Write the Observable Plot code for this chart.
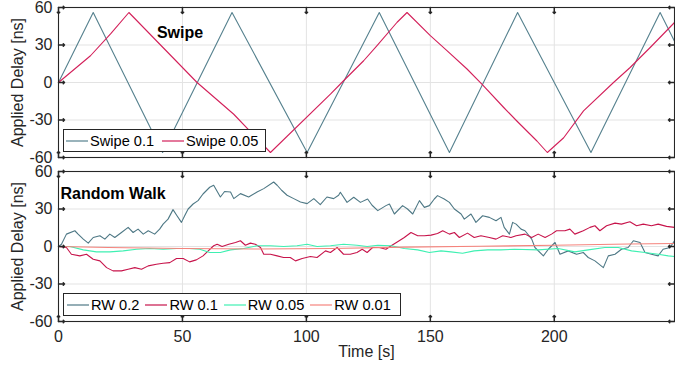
<!DOCTYPE html>
<html><head><meta charset="utf-8">
<script src="https://cdn.jsdelivr.net/npm/d3@7"></script>
<script src="https://cdn.jsdelivr.net/npm/@observablehq/plot@0.6"></script>
<style>
body{margin:0;background:#fff;font-family:"Liberation Sans",Arial,sans-serif;}
#wrap{position:relative;width:675px;height:369px;overflow:hidden;}
.panel{position:absolute;left:0;}
.legend{position:absolute;box-sizing:border-box;border:1px solid #262626;background:#fff;display:flex;align-items:center;font-size:14.6px;color:#000;white-space:nowrap;}
.legend .item{display:flex;align-items:center;}
.legend svg{display:block;margin-right:2px;}
</style></head>
<body><div id="wrap"></div>
<script>
const xTicks = [0, 50, 100, 150, 200];
const yTicks = [-60, -30, 0, 30, 60];
const swipeNames = ["Swipe 0.1", "Swipe 0.05"];
const swipeColors = ["#55818e", "#d3205a"];
const rwNames = ["RW 0.2", "RW 0.1", "RW 0.05", "RW 0.01"];
const rwColors = ["#4e7885", "#c7144b", "#3ff0b2", "#f5837c"];

const swipe01 = [[0,0],[14,56],[42,-56],[70,56],[100.3,-56],[129.4,56],[157.7,-56],[185.2,56],[214.8,-56],[242.7,56],[248.5,33]];
const swipe005 = [[0,0],[12.9,21.4],[21,38.9],[28.4,56],[55.9,0],[70.7,-25.4],[85.5,-56],[109.7,-9.3],[115,1.4],[123.1,17.4],[128.5,29.5],[136.6,48.2],[140.6,56],[150,37.5],[156.7,25.5],[164.8,10.8],[170.8,-1.3],[179.6,-20],[184.9,-30.8],[193,-46.8],[197.2,-56],[203.8,-44.2],[211.8,-22.7],[223.9,0],[230.6,12],[238.7,28],[248.5,48]];

const rw02 = [[0,0],[1.2,1.8],[3.2,9.9],[6.6,12.6],[7.9,9.9],[10,5.9],[12,2.7],[14,7.2],[16.7,8.6],[18.7,5.9],[20.7,9.9],[22.7,7.2],[25.4,11.2],[28.1,15.3],[30.1,11.2],[32.1,13.9],[34.2,9.9],[36.2,12.6],[38.8,9.9],[40.8,13.9],[42.2,17.9],[44.2,21.9],[46.2,29.5],[47.8,24.6],[49.6,19.3],[50.9,24.6],[52.3,30],[54.3,34],[56.3,36.7],[58.3,42],[61,47.4],[62.6,49],[65.3,39.6],[67,44],[69.4,43.6],[70.7,38.3],[73.4,42.3],[76.7,39.6],[80.1,43.6],[82.8,46.3],[86.8,51.6],[88.2,49],[90,45],[92.2,41],[94.9,38.3],[97.6,35.6],[100.3,34.3],[103,38.3],[105.6,33.5],[108.3,39.6],[111,38.3],[113,41],[113.7,43.4],[116.4,35.3],[119.1,39.4],[121.8,35.3],[124.7,38],[126.5,33],[128.8,28.7],[132.1,32.7],[133.5,34],[135.5,26],[138.8,32.7],[140.8,30],[142.9,26],[145.6,36.7],[147.6,31.3],[149.6,32.7],[151.6,38],[152.9,40.7],[155.6,38],[157.7,35.3],[159.7,30],[162.4,26],[163.7,21.9],[166.4,26],[168.4,19.3],[171.1,24.6],[173.8,23.3],[176.5,20.6],[178.5,23.3],[179.8,15.3],[181.9,9.9],[183.2,19.3],[184.6,17.9],[186.6,13.9],[188.2,12.6],[190.9,5.9],[192.2,-0.8],[195.6,-7.5],[197.6,-2.2],[200.3,3.2],[202.3,-6.2],[205.6,-3.5],[209,-6.2],[211.7,-4.8],[213.7,-8.8],[216.4,-11.5],[219.8,-16.9],[221.8,-7.5],[224.5,-6.2],[227.1,-2.2],[229.8,-0.8],[231.9,4.6],[234.6,3.2],[236.6,-4.8],[239.2,-6.2],[241.9,-7.5],[243.9,-2.2],[246.7,-0.8],[248.5,4.6]];
const rw01 = [[0,0],[3.2,-0.8],[5.2,-6.2],[8.6,-7.5],[11.3,-6.2],[14,-10.2],[16.7,-11.5],[19.4,-16.9],[22,-19.5],[25.4,-19.5],[28.1,-18.2],[30.8,-16.9],[33.5,-18.2],[36.2,-15.5],[39.5,-14.2],[42.2,-13.4],[44.9,-12.9],[47.6,-9.6],[50.3,-9.6],[52.9,-12.3],[55.6,-10.7],[58.3,-7.5],[60.4,-3.5],[62.6,0.6],[64,1.8],[66,0],[68.7,1.8],[71.4,3.2],[73.4,4.6],[75.4,1],[77.4,2.7],[79.4,1.8],[81.5,-0.8],[82.8,-6.2],[85.5,-6.2],[88.2,-7.5],[90.8,-8.8],[93.5,-8.8],[95.6,-11.5],[98.3,-9.6],[101.6,-8],[104.3,-8.8],[107.7,-3.5],[109.7,-4.8],[112.4,-0.8],[115,-6.2],[117.7,-6.2],[120.4,-4.8],[122.5,-2.2],[124.5,-4.8],[126.7,-0.8],[129.4,-0.8],[132.1,-2.2],[134.2,0.6],[136.8,3.8],[139.5,7.2],[142.2,11.2],[144.9,8.6],[147.6,8.6],[150.3,9.1],[152.9,10.4],[155,12.6],[157.7,9.9],[159.7,11.2],[161.7,7.2],[165,10.7],[167.7,7.2],[170.4,8.6],[173.8,7.2],[176.5,5.9],[179.2,8.6],[182.5,7.2],[184.6,8.6],[188.2,9.9],[190.9,7.2],[193.5,9.9],[196.3,7.2],[198.9,9.9],[200.9,12.6],[204.3,12.6],[206.3,13.9],[208.3,9.9],[211.7,12.6],[214.4,15.3],[216.4,16.6],[218.4,12.6],[221.1,16.6],[224.5,18.7],[227.1,17.9],[230.5,19.8],[233.2,16.6],[235.9,17.9],[239.2,16.6],[241.9,17.9],[245.3,16.1],[248.5,15.3]];
const rw005 = [[0,0],[4.6,0],[10,-2.7],[15.3,-4.3],[20.7,-4.3],[26.1,-3.5],[31.5,-2.2],[36.8,-1.6],[42.2,-2.2],[47.6,-1.6],[52.9,-1.6],[57,-2.2],[61,-4.8],[65.3,-4.8],[69.4,-2.7],[74.7,-1.6],[80.1,0.6],[85.5,0.6],[90.8,0],[96.2,0.6],[100.3,1.8],[104.3,0],[109.7,0.6],[115,1.8],[120.4,1],[124.5,0],[128.8,1],[134.2,0.6],[139.5,-1.6],[144.9,-2.7],[149.6,-4.8],[154.3,-3.5],[158.3,-4.3],[163,-5.4],[167.7,-3.5],[173.1,-2.7],[178.5,-2.7],[183.9,-2.2],[193.5,-2.7],[201.6,-1.6],[208.3,-4.3],[213.7,-2.7],[220.4,-0.8],[225.8,-0.8],[231.2,-3.5],[236.6,-4.8],[241.9,-6.2],[246,-7.5],[248.5,-8]];
const rw001 = [[0,0],[20,-0.8],[50,-1.6],[80,-2],[110,-1.6],[140,-0.5],[170,0.2],[200,1],[230,2],[248.5,2.4]];

const xDomain = [0, 248.5];
const FONT = "'Liberation Sans', Arial, sans-serif";
const DARK = "#262626";

function panel({names, colors, series, height, marginTop, marginBottom, showX, title}) {
  const data = series.flatMap((pts, i) => pts.map(([t, v]) => ({t, v, name: names[i]})));
  const marks = [
    Plot.gridX(xTicks, {stroke: "#e3e3e3", strokeOpacity: 1}),
    Plot.gridY(yTicks, {stroke: "#e3e3e3", strokeOpacity: 1}),
    Plot.line(data, {x: "t", y: "v", z: "name", stroke: "name", strokeWidth: 1.1}),
    Plot.frame({stroke: DARK, strokeWidth: 1.1}),
    Plot.vector(yTicks, {y: d => d, frameAnchor: "left", rotate: 90, length: 6, anchor: "start", stroke: DARK}),
    Plot.vector(yTicks, {y: d => d, frameAnchor: "right", rotate: -90, length: 6, anchor: "start", stroke: DARK}),
    Plot.vector(xTicks, {x: d => d, frameAnchor: "bottom", rotate: 0, length: 6, anchor: "start", stroke: DARK}),
    Plot.vector(xTicks, {x: d => d, frameAnchor: "top", rotate: 180, length: 6, anchor: "start", stroke: DARK}),
    Plot.axisY({ticks: yTicks, tickSize: 0, tickPadding: 6, tickFormat: d => String(d), label: null, fontSize: 16, fill: DARK}),
    Plot.text(["Applied Delay [ns]"], {frameAnchor: "left", textAnchor: "middle", dx: -41, rotate: -90, fontSize: 16, fill: DARK}),
    Plot.text([title.text], {frameAnchor: "top-left", dx: title.dx, dy: title.dy, textAnchor: title.anchor, fontWeight: "bold", fontSize: 16, fill: "#000"})
  ];
  if (showX) {
    marks.push(Plot.axisX({ticks: xTicks, tickSize: 0, tickPadding: 9, label: null, fontSize: 16, fill: DARK}));
    marks.push(Plot.text(["Time [s]"], {frameAnchor: "bottom", dy: 35, fontSize: 16, fill: DARK}));
  } else {
    marks.push(Plot.axisX({ticks: [], label: null}));
  }
  return Plot.plot({
    width: 675, height, marginLeft: 58, marginRight: 1, marginTop, marginBottom,
    style: {fontFamily: FONT, fontSize: "16px", color: DARK, background: "transparent", overflow: "visible"},
    x: {domain: xDomain},
    y: {domain: [-60, 60]},
    color: {domain: names, range: colors},
    marks
  });
}

function legend(names, colors, {left, top, width, height, gap, padLeft}) {
  const div = document.createElement("div");
  div.className = "legend";
  Object.assign(div.style, {left: left + "px", top: top + "px", width: width + "px", height: height + "px", paddingLeft: padLeft + "px"});
  names.forEach((n, i) => {
    const item = document.createElement("div");
    item.className = "item";
    if (i > 0) item.style.marginLeft = gap + "px";
    item.innerHTML = `<svg width="22" height="10"><line x1="0" x2="22" y1="5" y2="5" stroke="${colors[i]}" stroke-width="1.2"/></svg><span>${n}</span>`;
    div.appendChild(item);
  });
  return div;
}

const wrap = document.getElementById("wrap");
const top1 = panel({names: swipeNames, colors: swipeColors, series: [swipe01, swipe005], height: 164, marginTop: 7, marginBottom: 7, showX: false,
  title: {text: "Swipe", dx: 121.5, dy: 19, anchor: "middle"}});
top1.classList.add("panel"); top1.style.top = "0px";
const bot = panel({names: rwNames, colors: rwColors, series: [rw02, rw01, rw005, rw001], height: 205, marginTop: 7, marginBottom: 48, showX: true,
  title: {text: "Random Walk", dx: 2, dy: 16, anchor: "start"}});
bot.classList.add("panel"); bot.style.top = "164px";
wrap.appendChild(top1);
wrap.appendChild(bot);
wrap.appendChild(legend(swipeNames, swipeColors, {left: 63, top: 129, width: 203, height: 23, gap: 8, padLeft: 2}));
wrap.appendChild(legend(rwNames, rwColors, {left: 63, top: 293, width: 338, height: 23, gap: 6, padLeft: 3}));
</script></body></html>
